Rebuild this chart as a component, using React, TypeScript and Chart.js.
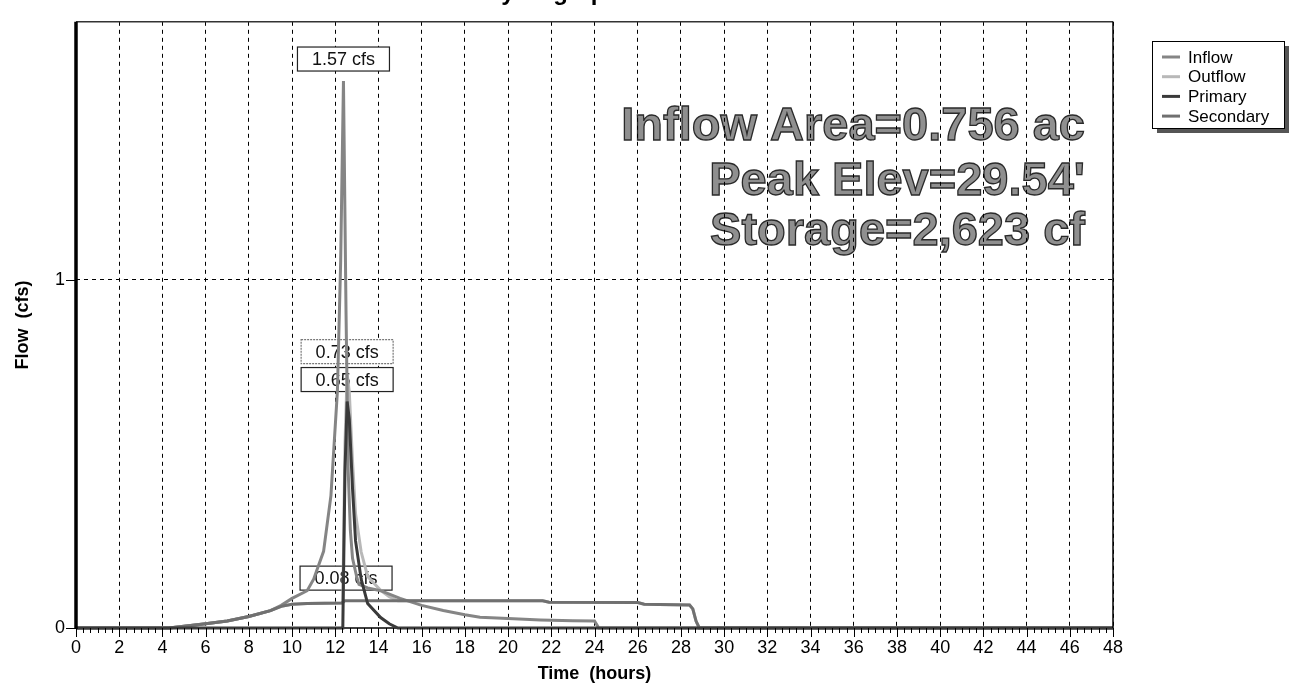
import React, { useEffect, useRef } from "react";
import { Chart, registerables } from "chart.js";

Chart.register(...registerables);

// ---------------- data ----------------
const xTickHours = [0, 2, 4, 6, 8, 10, 12, 14, 16, 18, 20, 22, 24, 26, 28, 30, 32, 34, 36, 38, 40, 42, 44, 46, 48];
const yTickFlows = [0, 1];

const inflowTime = [0, 4.3, 5, 6, 7, 8, 9, 9.5, 10, 10.7, 11, 11.46, 11.8, 12.1, 12.25, 12.38, 12.5, 12.6, 12.7, 12.8, 13, 13.1, 13.5, 14.1, 15, 16, 17, 18, 18.7, 20, 21.5, 23, 24, 24.2, 48];
const inflowFlow = [0, 0, 0.005, 0.012, 0.02, 0.033, 0.05, 0.065, 0.085, 0.107, 0.14, 0.22, 0.38, 0.68, 1.05, 1.57, 0.9, 0.45, 0.28, 0.2, 0.145, 0.125, 0.115, 0.107, 0.085, 0.065, 0.05, 0.038, 0.031, 0.027, 0.023, 0.021, 0.02, 0, 0];

const outflowTime = [0, 4.3, 5, 6, 7, 8, 9, 9.5, 10, 10.7, 11.5, 12.3, 12.35, 12.45, 12.55, 12.65, 12.8, 12.94, 13.2, 13.5, 14.1, 14.5, 14.9, 21.6, 21.9, 26, 26.3, 28.4, 28.55, 28.7, 28.85, 48];
const outflowFlow = [0, 0, 0.005, 0.012, 0.02, 0.033, 0.05, 0.062, 0.068, 0.07, 0.071, 0.072, 0.073, 0.528, 0.73, 0.678, 0.478, 0.328, 0.218, 0.148, 0.108, 0.09, 0.078, 0.078, 0.074, 0.073, 0.068, 0.066, 0.055, 0.02, 0, 0];

const primaryTime = [0, 12.35, 12.45, 12.55, 12.65, 12.8, 12.94, 13.2, 13.5, 14.1, 14.5, 14.9, 48];
const primaryFlow = [0, 0, 0.45, 0.65, 0.6, 0.4, 0.25, 0.14, 0.07, 0.03, 0.012, 0, 0];

const secondaryTime = [0, 4.3, 5, 6, 7, 8, 9, 9.5, 10, 10.7, 11.5, 12.3, 12.45, 21.6, 21.9, 26, 26.3, 28.4, 28.55, 28.7, 28.85, 48];
const secondaryFlow = [0, 0, 0.005, 0.012, 0.02, 0.033, 0.05, 0.062, 0.068, 0.07, 0.071, 0.072, 0.078, 0.078, 0.074, 0.073, 0.068, 0.066, 0.055, 0.02, 0, 0];

const seriesNames = ["Inflow", "Outflow", "Primary", "Secondary"];
const seriesColors = ["#858585", "#b8b8b8", "#3a3a3a", "#707070"];

const peakLabels = ["1.57 cfs", "0.73 cfs", "0.65 cfs", "0.08 cfs"];
const peakTimes = [12.38, 12.55, 12.55, 12.5];
const peakFlows = [1.57, 0.73, 0.65, 0.08];

const infoLines = ["Inflow Area=0.756 ac", "Peak Elev=29.54'", "Storage=2,623 cf"];
const chartTitle = "Hydrograph";

const W = 1291;
const H = 688;
const FONT = "'Liberation Sans', Arial, sans-serif";

export default function App() {
  const ref = useRef<HTMLCanvasElement>(null);

  useEffect(() => {
    const canvas = ref.current;
    if (!canvas) return;
    const pts = (t: number[], f: number[]) => t.map((x, i) => ({ x, y: f[i] }));

    const decor = {
      id: "decor",
      beforeDraw(chart: any) {
        const ctx = chart.ctx;
        const ca = chart.chartArea;
        ctx.save();
        ctx.fillStyle = "#fff";
        ctx.fillRect(0, 0, chart.width, chart.height);
        // cropped title (only descenders visible)
        ctx.fillStyle = "#000";
        ctx.font = `bold 24px ${FONT}`;
        ctx.textAlign = "center";
        ctx.textBaseline = "alphabetic";
        ctx.fillText(chartTitle, 552, 0);
        // info text
        ctx.font = `bold 47px ${FONT}`;
        ctx.textAlign = "right";
        ctx.lineWidth = 1.3;
        ctx.strokeStyle = "#2a2a2a";
        ctx.fillStyle = "#8f8f8f";
        const baselines = [140, 195, 245];
        infoLines.forEach((s, i) => {
          ctx.fillText(s, ca.right - 28, baselines[i]);
          ctx.strokeText(s, ca.right - 28, baselines[i]);
        });
        ctx.restore();
      },
      beforeDatasetsDraw(chart: any) {
        const ctx = chart.ctx;
        const xs = chart.scales.x;
        const ys = chart.scales.y;
        ctx.save();
        // peak label boxes
        ctx.font = `18px ${FONT}`;
        ctx.textAlign = "center";
        ctx.textBaseline = "middle";
        peakLabels.forEach((s, i) => {
          const cx = xs.getPixelForValue(peakTimes[i]);
          const bottom = ys.getPixelForValue(peakFlows[i]) - 10;
          const w = 92, h = 24;
          ctx.fillStyle = "#fff";
          ctx.fillRect(cx - w / 2, bottom - h, w, h);
          ctx.strokeStyle = i === 1 ? "#777" : "#222";
          ctx.lineWidth = 1.2;
          ctx.setLineDash(i === 1 ? [2, 1] : []);
          ctx.strokeRect(cx - w / 2, bottom - h, w, h);
          ctx.setLineDash([]);
          ctx.fillStyle = "#111";
          ctx.fillText(s, cx, bottom - h / 2 + 1);
        });
        // bottom axis line
        const ca = chart.chartArea;
        ctx.strokeStyle = "#000";
        ctx.lineWidth = 1.5;
        ctx.beginPath();
        ctx.moveTo(ca.left, ca.bottom);
        ctx.lineTo(ca.right, ca.bottom);
        ctx.stroke();
        ctx.restore();
      },
      afterDraw(chart: any) {
        const ctx = chart.ctx;
        const ca = chart.chartArea;
        const xs = chart.scales.x;
        const ys = chart.scales.y;
        ctx.save();
        // top border
        ctx.lineWidth = 1.5;
        ctx.strokeStyle = "#333";
        ctx.beginPath();
        ctx.moveTo(ca.left, ca.top);
        ctx.lineTo(ca.right, ca.top);
        ctx.stroke();
        // right border
        ctx.strokeStyle = "#000";
        ctx.beginPath();
        ctx.moveTo(ca.right, ca.top);
        ctx.lineTo(ca.right, ca.bottom);
        ctx.stroke();
        // left thick border
        ctx.lineWidth = 3.5;
        ctx.beginPath();
        ctx.moveTo(ca.left, ca.top);
        ctx.lineTo(ca.left, ca.bottom + 1);
        ctx.stroke();
        // x ticks (major + minor)
        ctx.lineWidth = 1;
        for (let i = 0; i <= 48 * 3; i++) {
          const v = i / 3;
          const px = Math.round(xs.getPixelForValue(v)) + 0.5;
          const major = i % 6 === 0;
          ctx.beginPath();
          ctx.moveTo(px, ca.bottom);
          ctx.lineTo(px, ca.bottom + (major ? 9 : 5));
          ctx.stroke();
        }
        // y ticks
        yTickFlows.forEach((v) => {
          const py = Math.round(ys.getPixelForValue(v)) + 0.5;
          ctx.beginPath();
          ctx.moveTo(ca.left - 10, py);
          ctx.lineTo(ca.left, py);
          ctx.stroke();
        });
        // legend
        const lx = 1152, ly = 41, lw = 132, lh = 87;
        ctx.fillStyle = "#555";
        ctx.fillRect(lx + 5, ly + 5, lw, lh);
        ctx.fillStyle = "#fff";
        ctx.fillRect(lx, ly, lw, lh);
        ctx.strokeStyle = "#000";
        ctx.lineWidth = 1;
        ctx.strokeRect(lx + 0.5, ly + 0.5, lw, lh);
        ctx.font = `17px ${FONT}`;
        ctx.textAlign = "left";
        ctx.textBaseline = "middle";
        seriesNames.forEach((n, i) => {
          const y = ly + 16 + i * 19.7;
          ctx.strokeStyle = seriesColors[i];
          ctx.lineWidth = 3;
          ctx.beginPath();
          ctx.moveTo(lx + 10, y);
          ctx.lineTo(lx + 28, y);
          ctx.stroke();
          ctx.fillStyle = "#000";
          ctx.fillText(n, lx + 36, y + 1);
        });
        ctx.restore();
      },
    };

    const mk = (i: number, t: number[], f: number[], order: number) => ({
      label: seriesNames[i],
      data: pts(t, f),
      borderColor: seriesColors[i],
      backgroundColor: seriesColors[i],
      borderWidth: 3,
      pointRadius: 0,
      tension: 0,
      fill: false,
      clip: false,
      order,
    });

    const chart = new Chart(canvas, {
      type: "line",
      data: {
        datasets: [
          mk(0, inflowTime, inflowFlow, 3),
          mk(1, outflowTime, outflowFlow, 4),
          mk(2, primaryTime, primaryFlow, 1),
          mk(3, secondaryTime, secondaryFlow, 2),
        ],
      },
      options: {
        responsive: false,
        animation: false,
        events: [],
        layout: { padding: { top: 10, right: 178, bottom: 0, left: 0 } },
        plugins: {
          legend: { display: false },
          tooltip: { enabled: false },
          title: { display: false },
        },
        scales: {
          x: {
            type: "linear",
            min: 0,
            max: 48,
            afterBuildTicks: (s: any) => {
              s.ticks = xTickHours.map((v) => ({ value: v }));
            },
            afterFit: (s: any) => {
              s.height = 60;
            },
            ticks: {
              font: { family: FONT, size: 18 },
              color: "#000",
              padding: 9,
              maxRotation: 0,
              autoSkip: false,
            },
            grid: { color: "#000", lineWidth: 1, drawTicks: false },
            border: { display: false, dash: [4, 4] },
            title: {
              display: true,
              text: "Time  (hours)",
              font: { family: FONT, size: 18, weight: "bold" },
              color: "#000",
              padding: { top: 0, bottom: 3 },
            },
          },
          y: {
            type: "linear",
            min: 0,
            max: 1.74,
            afterBuildTicks: (s: any) => {
              s.ticks = yTickFlows.map((v) => ({ value: v }));
            },
            afterFit: (s: any) => {
              s.width = 76;
            },
            ticks: {
              font: { family: FONT, size: 18 },
              color: "#000",
              padding: 11,
              callback: (v: any) => String(v),
            },
            grid: {
              color: (c: any) => (c.tick && c.tick.value === 1 ? "#000" : "rgba(0,0,0,0)"),
              lineWidth: 1,
              drawTicks: false,
            },
            border: { display: false, dash: [4, 4] },
            title: {
              display: true,
              text: "Flow  (cfs)",
              font: { family: FONT, size: 18, weight: "bold" },
              color: "#000",
              padding: { top: 12, bottom: 0 },
            },
          },
        },
      },
      plugins: [decor],
    } as any);

    return () => chart.destroy();
  }, []);

  return (
    <div style={{ position: "absolute", left: 0, top: 0, width: W, height: H, background: "#fff" }}>
      <canvas ref={ref} width={W} height={H} style={{ display: "block", width: W, height: H }} />
    </div>
  );
}
